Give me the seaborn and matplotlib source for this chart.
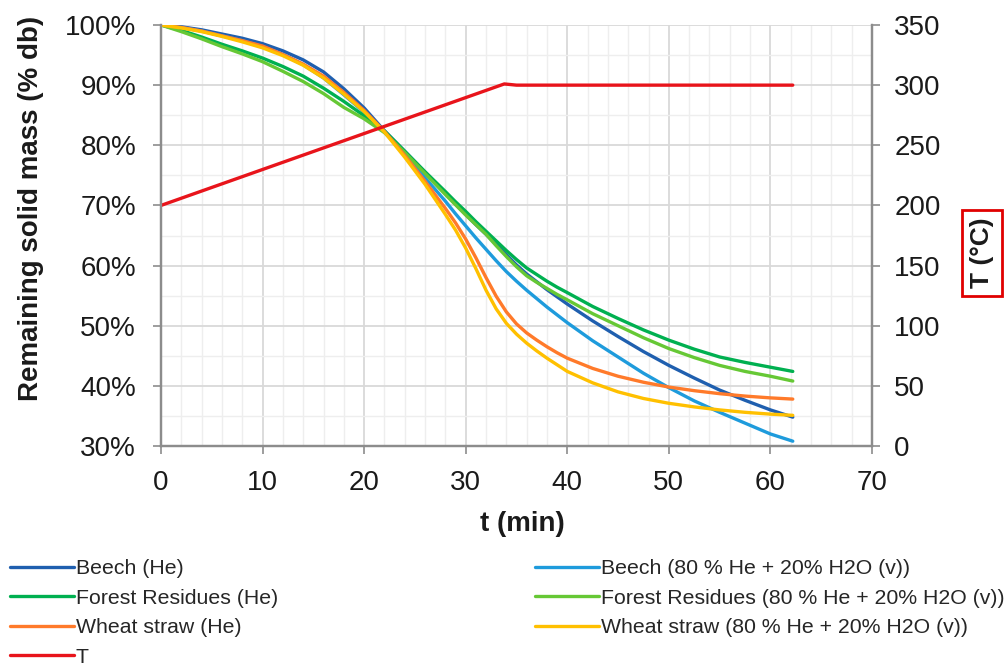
import numpy as np
import pandas as pd
import matplotlib
matplotlib.use("Agg")
import matplotlib.pyplot as plt
import seaborn as sns
from matplotlib.ticker import MultipleLocator, PercentFormatter

# ---------------- data ----------------
t_min = [0, 2, 4, 6, 8, 10, 12, 14, 16, 18, 20, 22, 24, 26,
         28, 29, 30, 31, 32, 33, 34, 35, 36, 37, 38, 39, 40,
         42.5, 45, 47.5, 50, 52.5, 55, 57.5, 60, 62.2]

beech_he = [100, 99.7, 99.2, 98.5, 97.8, 96.9, 95.7, 94.2, 92.2, 89.4, 86.2, 82.4, 79.0, 75.5,
            72.0, 70.2, 68.5, 66.8, 65.2, 63.5, 61.8, 60.1, 58.6, 57.3, 56.0, 54.8, 53.6,
            50.8, 48.2, 45.7, 43.4, 41.3, 39.3, 37.6, 36.0, 34.8]
beech_h2o = [100, 99.6, 99.0, 98.2, 97.4, 96.4, 95.1, 93.4, 91.2, 88.4, 85.5, 82.3, 78.5, 74.6,
             70.7, 68.6, 66.6, 64.6, 62.7, 60.8, 59.0, 57.4, 55.9, 54.5, 53.1, 51.8, 50.5,
             47.5, 44.8, 42.1, 39.7, 37.5, 35.6, 33.8, 32.0, 30.8]
forest_he = [100, 99.1, 98.0, 96.8, 95.7, 94.5, 93.1, 91.5, 89.5, 87.3, 84.9, 82.4, 79.0, 75.6,
             72.3, 70.6, 69.0, 67.3, 65.7, 64.1, 62.5, 61.0, 59.6, 58.5, 57.4, 56.4, 55.5,
             53.2, 51.2, 49.3, 47.6, 46.1, 44.8, 43.9, 43.1, 42.4]
forest_h2o = [100, 98.9, 97.7, 96.4, 95.2, 93.9, 92.3, 90.6, 88.6, 86.3, 84.4, 82.1, 78.8, 75.3,
              71.8, 70.1, 68.4, 66.8, 65.2, 63.3, 61.5, 59.8, 58.3, 57.2, 56.2, 55.2, 54.3,
              52.0, 50.0, 48.0, 46.2, 44.7, 43.4, 42.4, 41.6, 40.8]
wheat_he = [100, 99.6, 99.0, 98.2, 97.4, 96.5, 95.1, 93.5, 91.5, 88.8, 85.8, 82.3, 78.3, 74.0,
            69.5, 67.1, 64.4, 61.3, 58.0, 54.9, 52.3, 50.3, 48.8, 47.6, 46.5, 45.5, 44.6,
            42.9, 41.6, 40.6, 39.8, 39.2, 38.7, 38.3, 38.0, 37.8]
wheat_h2o = [100, 99.5, 98.9, 98.1, 97.2, 96.2, 94.9, 93.3, 91.2, 88.5, 85.6, 82.2, 78.0, 73.5,
             68.5, 65.9, 62.9, 59.5, 55.9, 52.8, 50.4, 48.6, 47.1, 45.8, 44.6, 43.5, 42.4,
             40.5, 39.0, 37.9, 37.1, 36.5, 36.0, 35.6, 35.3, 35.1]

t_temp = [0, 33.8, 35, 62.2]
temp_c = [200, 301, 300, 300]

series_names = ["Beech (He)", "Beech (80 % He + 20% H2O (v))",
                "Forest Residues (He)", "Forest Residues (80 % He + 20% H2O (v))",
                "Wheat straw (He)", "Wheat straw (80 % He + 20% H2O (v))"]
series_values = [beech_he, beech_h2o, forest_he, forest_h2o, wheat_he, wheat_h2o]
series_colors = ["#1F5FAF", "#1E9BDC", "#00B050", "#66C835", "#FF7A2A", "#FFC000"]
temp_color = "#E8141B"

# ---------------- style ----------------
sns.set_theme(style="white")
plt.rcParams["font.family"] = ["Liberation Sans", "DejaVu Sans"]
plt.rcParams["axes.unicode_minus"] = False

fig = plt.figure(figsize=(10.08, 6.66), dpi=100)
ax = fig.add_axes([161 / 1008, 1 - 446 / 666, (872 - 161) / 1008, (446 - 25) / 666])
ax2 = ax.twinx()

frames = [pd.DataFrame({"t": t_min, "mass": vals, "series": name})
          for name, vals in zip(series_names, series_values)]
df = pd.concat(frames, ignore_index=True)
df_t = pd.DataFrame({"t": t_temp, "T": temp_c})

for name, col in zip(series_names, series_colors):
    sns.lineplot(data=df[df["series"] == name], x="t", y="mass", color=col,
                 linewidth=2.4, ax=ax, label=name, sort=False, estimator=None)
sns.lineplot(data=df_t, x="t", y="T", color=temp_color, linewidth=2.4, ax=ax2,
             label="T", sort=False, estimator=None)
for a in (ax, ax2):
    if a.get_legend() is not None:
        a.get_legend().remove()

# axes limits / ticks
ax.set_xlim(0, 70)
ax.set_ylim(30, 100)
ax2.set_ylim(0, 350)
ax.xaxis.set_major_locator(MultipleLocator(10))
ax.xaxis.set_minor_locator(MultipleLocator(2))
ax.yaxis.set_major_locator(MultipleLocator(10))
ax.yaxis.set_minor_locator(MultipleLocator(5))
ax.yaxis.set_major_formatter(PercentFormatter(100, decimals=0))
ax2.yaxis.set_major_locator(MultipleLocator(50))

ax.grid(which="major", color="#D9D9D9", linewidth=1.3)
ax.grid(which="minor", color="#EEEEEE", linewidth=1.0)
ax.set_axisbelow(True)
ax2.grid(False)

spine_col = "#8C8C8C"
for a in (ax, ax2):
    for s in a.spines.values():
        s.set_color(spine_col)
        s.set_linewidth(1.6)
    a.spines["top"].set_visible(False)
ax.tick_params(axis="both", which="major", direction="out", length=6, width=1.2,
               color=spine_col, labelsize=20, labelcolor="#1A1A1A")
ax.tick_params(which="minor", length=0)
ax.tick_params(axis="x", pad=11)
ax.tick_params(axis="y", pad=12)
ax2.tick_params(axis="y", which="major", direction="out", length=6, width=1.2,
                color=spine_col, labelsize=20, labelcolor="#1A1A1A", pad=10)
ax.tick_params(left=True, bottom=True)
ax2.tick_params(right=True)

ax.set_xlabel("t (min)", fontsize=20, fontweight="bold", color="#1A1A1A")
ax.set_ylabel("Remaining solid mass (% db)", fontsize=20, fontweight="bold", color="#1A1A1A")
ax.xaxis.set_label_coords((522 - 161) / 711, (446 - 511) / 421)
ax.yaxis.set_label_coords((44 - 161) / 711, (446 - 208) / 421)
ax2.set_ylabel("T (°C)", fontsize=19, fontweight="bold", color="#1A1A1A",
               bbox=dict(boxstyle="square,pad=0.3", fc="white", ec="#E00000", lw=2))
ax2.yaxis.set_label_coords((970 - 161) / 711, (446 - 253) / 421)

# legend (two columns, placed below the plot)
h1, l1 = ax.get_legend_handles_labels()
h2, l2 = ax2.get_legend_handles_labels()
hmap = dict(zip(l1 + l2, h1 + h2))
left_labels = [series_names[0], series_names[2], series_names[4], "T"]
right_labels = [series_names[1], series_names[3], series_names[5]]
leg_kw = dict(frameon=False, fontsize=15.3, handlelength=3.0, handletextpad=0.1,
              labelspacing=0.5, borderpad=0, borderaxespad=0, loc="upper left")
fig.legend([hmap[k] for k in left_labels], left_labels,
           bbox_to_anchor=(10 / 1008, 1 - 559 / 666), **leg_kw)
fig.legend([hmap[k] for k in right_labels], right_labels,
           bbox_to_anchor=(535 / 1008, 1 - 559 / 666), **leg_kw)

fig.savefig("out.png", dpi=100)
